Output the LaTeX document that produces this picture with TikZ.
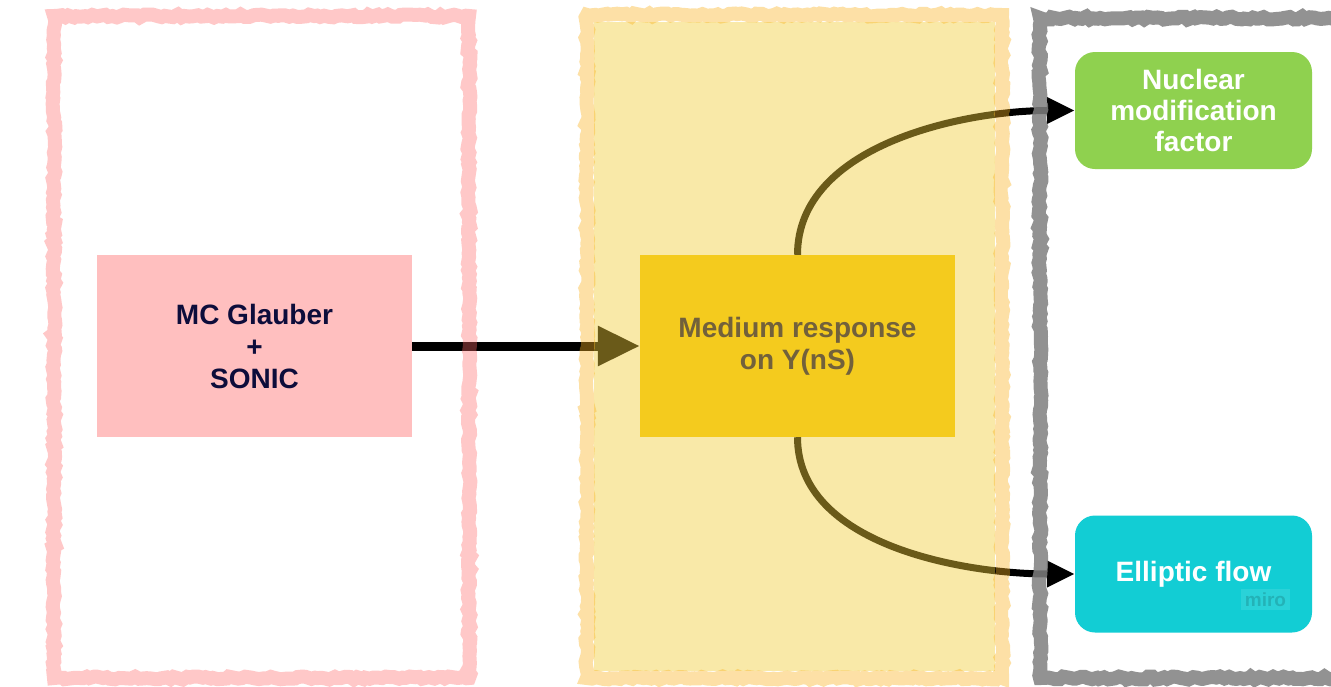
\documentclass[tikz,border=0pt]{standalone}
\usepackage{fontspec}
\setmainfont{Liberation Sans}
\usetikzlibrary{arrows.meta, decorations.pathmorphing}

\definecolor{pinkframe}{HTML}{FF6C6C}
\definecolor{pinkbox}{HTML}{FFBFBF}
\definecolor{goldframe}{HTML}{FBB321}
\definecolor{goldwash}{HTML}{F3CD3B}
\definecolor{goldbox}{HTML}{F6CA09}
\definecolor{greenbox}{HTML}{8FD14F}
\definecolor{cyanbox}{HTML}{12CDD4}
\definecolor{navytext}{HTML}{0D0D3B}

\begin{document}
\begin{tikzpicture}[x=1pt, y=-1pt,
    stagebox/.style={minimum width=315pt, minimum height=182pt, align=center, inner sep=0pt,
        font=\fontsize{28}{32}\selectfont\bfseries, text=navytext},
    resultbox/.style={minimum width=237pt, minimum height=117pt, align=center, inner sep=0pt,
        rounded corners=20pt, font=\fontsize{28}{31}\selectfont\bfseries, text=white},
    rough/.style={decorate, decoration={random steps, segment length=4pt, amplitude=1.5pt}, line width=14pt},
    bigarrow/.style={line width=9pt, -{Triangle[length=42pt, width=38pt]}},
    curvearrow/.style={line width=7pt, -{Triangle[length=28pt, width=25pt]}}]
    \useasboundingbox (0,0) rectangle (1331,686);
    \clip (0,0) rectangle (1331,686);
    \fill[white] (0,0) rectangle (1331,686);

    % boxes
    \node[stagebox, fill=pinkbox] (glauber) at (254.5,346) {MC Glauber\\+\\SONIC};
    \node[stagebox, fill=goldbox] (medium) at (797.5,346) {Medium response\\on Y(nS)};
    \node[resultbox, fill=greenbox] (raa) at (1193.5,110.5) {Nuclear\\modification\\factor};
    \node[resultbox, fill=cyanbox] (flow) at (1193.5,574) {Elliptic flow};
    \node[fill=white, fill opacity=0.1, text opacity=0.15, text=black, inner sep=4pt,
        font=\fontsize{19}{19}\selectfont\bfseries] (miro) at (1265.5,599.5) {miro};

    % arrows
    \draw[bigarrow] (glauber) -- (medium);
    \draw[curvearrow] (medium.north) to[out=90, in=180, looseness=0.9] (raa.west);
    \draw[curvearrow] (medium.south) to[out=270, in=180, looseness=0.9] (flow.west);

    % hand drawn frames on top
    \draw[rough, draw=pinkframe, draw opacity=0.37] (54,16) rectangle (469,678);
    \fill[goldwash, fill opacity=0.44] (594,22) rectangle (995,671);
    \draw[rough, draw=goldframe, draw opacity=0.4] (587,15) rectangle (1002,678);
    \draw[rough, draw=black!50, draw opacity=0.85] (1040,18) rectangle (1345,678);
\end{tikzpicture}
\end{document}
